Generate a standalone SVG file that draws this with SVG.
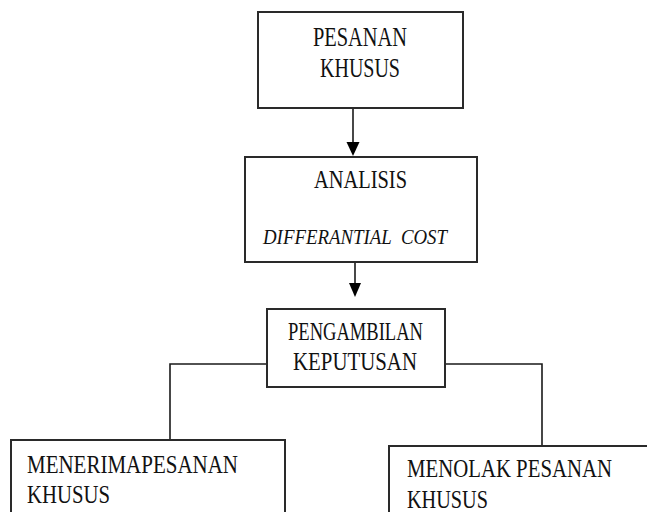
<svg xmlns="http://www.w3.org/2000/svg" width="647" height="512" viewBox="0 0 647 512">
<style>
.box{fill:#fff;stroke:#2a2a2a;stroke-width:2}
.ln{fill:none;stroke:#1a1a1a;stroke-width:1.6}
.hd{fill:#000}
.t{font-family:"Liberation Serif","Times New Roman",serif;font-size:20px;fill:#111}
.i{font-style:italic;font-size:17px}
</style>
<rect width="647" height="512" fill="#fff"/>
<g id="connectors">
<line class="ln" x1="353" y1="108" x2="353" y2="143"/>
<path class="hd" d="M346.5,142 L359.5,142 L353,156 z"/>
<line class="ln" x1="355" y1="262" x2="355" y2="284"/>
<path class="hd" d="M349,283 L361,283 L355,297 z"/>
<path class="ln" d="M267,364 H170 V440"/>
<path class="ln" d="M445,364 H542 V446"/>
</g>
<g id="n1">
<rect class="box" x="258" y="12" width="205" height="96"/>
<text class="t" transform="translate(313,46) scale(1,1.33)" textLength="94" lengthAdjust="spacingAndGlyphs">PESANAN</text>
<text class="t" transform="translate(320,77) scale(1,1.33)" textLength="80" lengthAdjust="spacingAndGlyphs">KHUSUS</text>
</g>
<g id="n2">
<rect class="box" x="245" y="157" width="232" height="105"/>
<text class="t" transform="translate(314,188) scale(1,1.25)" textLength="93" lengthAdjust="spacingAndGlyphs">ANALISIS</text>
<text class="t i" xml:space="preserve" transform="translate(263,244) scale(1,1.27)" textLength="184" lengthAdjust="spacingAndGlyphs">DIFFERANTIAL  COST</text>
</g>
<g id="n3">
<rect class="box" x="267" y="309" width="178" height="78"/>
<text class="t" transform="translate(288,340) scale(1,1.3)" textLength="135" lengthAdjust="spacingAndGlyphs">PENGAMBILAN</text>
<text class="t" transform="translate(293,370) scale(1,1.3)" textLength="124" lengthAdjust="spacingAndGlyphs">KEPUTUSAN</text>
</g>
<g id="n4">
<path class="box" d="M11,520 V440 H285 V520"/>
<text class="t" transform="translate(27,473) scale(1,1.3)" textLength="211" lengthAdjust="spacingAndGlyphs">MENERIMAPESANAN</text>
<text class="t" transform="translate(27,503) scale(1,1.3)" textLength="83" lengthAdjust="spacingAndGlyphs">KHUSUS</text>
</g>
<g id="n5">
<path class="box" d="M389,520 V446 H660"/>
<text class="t" transform="translate(407,477) scale(1,1.3)" textLength="205" lengthAdjust="spacingAndGlyphs">MENOLAK PESANAN</text>
<text class="t" transform="translate(407,508) scale(1,1.25)" textLength="81" lengthAdjust="spacingAndGlyphs">KHUSUS</text>
</g>
</svg>
